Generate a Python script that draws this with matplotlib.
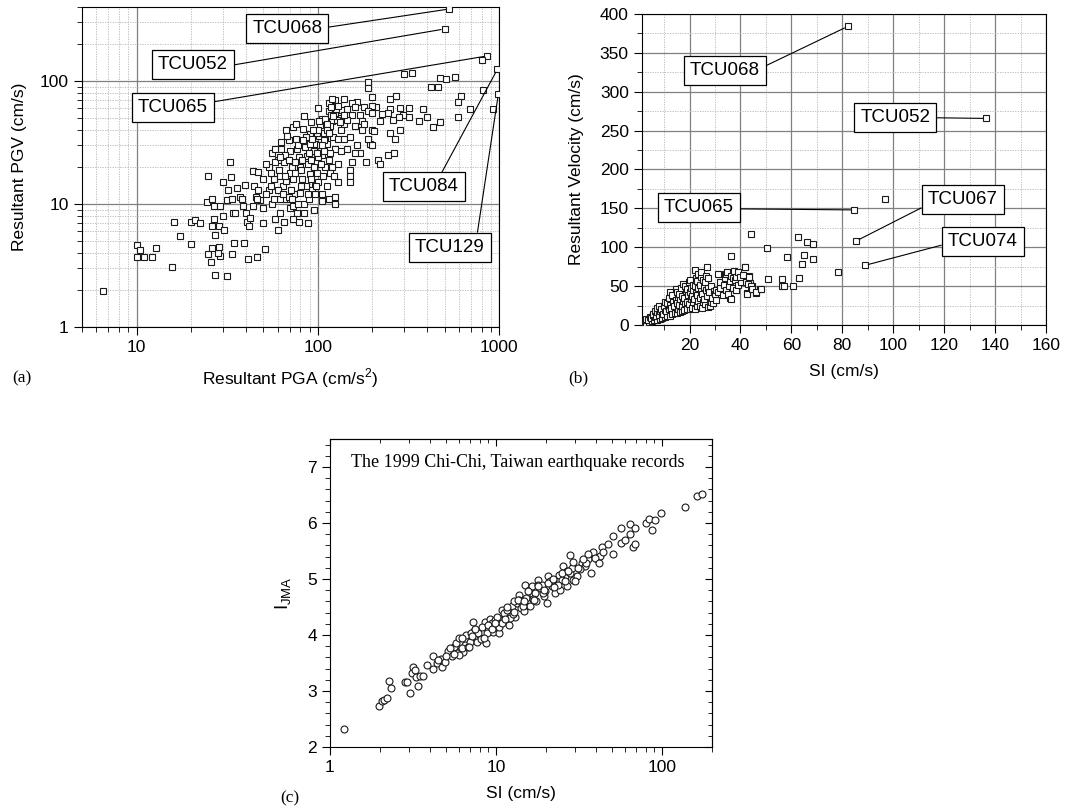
import matplotlib
matplotlib.use('Agg')
import matplotlib.pyplot as plt
from matplotlib.ticker import FuncFormatter, MultipleLocator, NullFormatter

plt.rcParams['font.family'] = ['Liberation Sans', 'DejaVu Sans']
plt.rcParams['mathtext.fontset'] = 'custom'
plt.rcParams['mathtext.rm'] = 'Liberation Sans'

# (a) resultant PGA (cm/s2) vs resultant PGV (cm/s)
pga_a = [
    530, 500, 860, 800, 980, 990, 930, 810, 690, 620,
    590, 590, 570, 510, 470, 420, 460, 430, 470, 360,
    380, 400, 300, 330, 285, 320, 320, 295, 280, 285,
    270, 250, 250, 245, 260, 250, 265, 245, 262, 210,
    220, 225, 200, 205, 215, 195, 200, 220, 190, 190,
    200, 200, 180, 165, 190, 190, 185, 170, 165, 160,
    155, 145, 150, 150, 150, 130, 130, 125, 140, 155,
    155, 145, 140, 130, 135, 100, 105, 115, 120, 115,
    110, 102, 125, 120, 115, 117, 123, 105, 115, 125,
    125, 105, 97, 100,
    6.5, 10, 10, 10.4, 11, 12.2, 12.8, 15.7, 16, 17.3,
    20, 20, 21, 22.3, 24.5, 24.7, 24.7, 25.9, 27, 27.2,
    31.5, 29, 28, 28.5, 26, 33.5, 34.5, 39, 41, 46, 51,
    32.7, 33, 30, 26, 26.7, 28.8, 26.7, 26, 28.5, 30,
    30.5, 31.5, 32, 33.5, 34, 36, 37, 38.7, 40, 40.6,
    41.5, 42, 39.5, 44, 47, 44.5, 45.5, 48, 50, 50,
    54, 54, 57, 56, 58, 62, 60, 65, 67, 70,
    74, 77, 79, 84, 84, 89, 93, 80,
    56, 60, 61, 63, 65, 67, 69, 70, 72, 73,
    73, 76, 77, 79, 80, 82, 83, 84, 85, 87,
    88, 90, 91, 92, 95, 97, 98, 99, 103, 105,
    110, 112, 117, 117, 122, 125, 130, 135, 140,
    47, 50, 52, 46, 44, 38, 35, 64, 67, 70, 65, 69, 73, 73, 62,
    99, 103, 110, 118, 126, 130, 115, 120, 160, 170, 176, 200,
    86, 92, 95, 100, 108, 112, 95, 88, 78, 60, 55, 58, 62, 66, 75,
    82, 90, 100, 108, 135, 145, 160, 175, 150, 180,
    52, 55, 58, 62, 64, 68, 71, 75, 78, 81,
    86, 89, 94, 96, 101, 104, 108, 113, 118, 128,
    66, 72, 81, 88, 93, 99, 107, 113, 121, 133,
    57, 63, 69, 76, 83, 92, 98, 106, 115, 140,
]
pgv_a = [
    385, 265, 160, 148, 125, 78, 59, 85, 59, 75,
    68, 51, 108, 103, 106, 90, 90, 42, 46, 47,
    59, 51, 113, 117, 60, 60, 51, 53, 51, 40,
    75, 71, 59, 55, 48, 38, 34, 25, 26, 62,
    47, 54, 40, 39, 23, 31, 30, 21, 98, 88,
    74, 63, 62, 68, 57, 34, 22, 26, 30, 26,
    22, 28, 19, 17, 15, 21, 15, 70, 71, 66,
    53, 59, 45, 50, 58, 60, 49, 57, 47, 39,
    33, 36, 28, 20, 23, 18, 17, 12, 11, 11.5,
    10, 10.5, 14, 15,
    1.98, 4.6, 3.7, 4.2, 3.7, 3.7, 4.4, 3.1, 7.1, 5.5,
    4.7, 7.1, 7.4, 7.0, 10.3, 16.8, 3.9, 3.4, 5.6, 2.65,
    2.6, 3.8, 4.0, 4.5, 4.4, 3.9, 4.8, 4.8, 3.6, 3.7, 4.3,
    22, 16.5, 15, 11, 9.6, 9.6, 7.5, 6.6, 6.6, 8,
    6.2, 10.8, 13, 11, 8.5, 13.5, 11.5, 9.6, 8.5, 7.2,
    6.6, 7.7, 14.3, 18.5, 18.2, 14, 11.5, 10.8, 9.3, 7,
    13, 20, 16, 10, 7.5, 8.5, 6.2, 7.2, 11, 9.3,
    12, 8.5, 7.2, 10, 8.5, 11, 13, 12.3,
    26, 23, 19, 28, 22, 40, 33, 27, 20, 42,
    16, 34, 28, 24, 20, 16, 41, 52, 29, 24.5,
    21, 17.5, 37, 46, 27, 31, 22, 18, 30, 25,
    20, 31, 26, 43, 35, 55, 34, 27, 34,
    13, 16, 12, 11, 9.6, 11, 8.5, 14, 15.3, 18, 11, 11.5, 9.6, 7.5, 11,
    38, 44, 49, 53, 59, 63, 66, 71, 61, 53, 47, 55,
    14, 16, 20, 24, 27, 14, 9, 7, 10, 13, 18, 22, 17, 25, 18,
    23, 31, 40, 38, 40, 48, 43, 40, 35, 45,
    21, 14, 28, 24, 12, 36, 13, 22, 30, 14,
    35, 26, 40, 12, 47, 21, 33, 45, 62, 48,
    17, 11, 19, 12, 34, 26, 17, 40, 52, 46,
    11, 32, 23, 45, 33, 23, 14, 30, 38, 53,
]

# (b) SI (cm/s) vs resultant velocity (cm/s)
si_b = [
    82.1, 136.6, 84.7, 96.7, 85.4, 88.9, 78.4, 44, 50.3, 62.4,
    66.3, 68.6, 58.2, 65.1, 64.3, 68.3, 36.1, 63, 56.5, 56.5,
    57.2, 60.8, 50.7, 47.7, 46.1, 42.5, 43.8, 44.4, 41.8, 43.4,
    38.6, 38.2, 36, 34.6, 31.4,
    2.1, 2.4,
    3.0, 3.3, 2.8,
    4.1, 3.8, 4.4,
    5.2, 4.9, 5.5,
    6.0, 6.3, 5.8, 6.6,
    7.1, 6.9, 7.4, 7.2,
    8.2, 7.9, 8.5, 8.1,
    9.0, 9.3, 8.8,
    10.2, 9.6, 10.5, 9.9, 10.3,
    11.1, 10.8, 11.4, 11.0,
    12.2, 11.8, 12.5, 12.0, 12.4,
    13.1, 12.9, 13.4, 13.2,
    14.2, 13.8, 14.5, 14.8,
    15.0, 15.3, 14.9, 15.6, 15.2,
    16.1, 15.8, 16.4, 16.0, 16.6,
    17.2, 16.9, 17.5, 17.1, 17.4,
    18.0, 18.3, 17.8, 18.6, 18.2,
    19.1, 18.9, 19.4, 19.0, 19.7,
    20.2, 19.8, 20.5, 20.1, 20.4, 20.0,
    21.0, 21.3, 20.8, 21.5, 21.2,
    22.1, 21.8, 22.4, 22.0, 22.5, 22.2,
    23.0, 23.3, 22.8, 23.5, 23.1, 23.4,
    24.2, 23.9, 24.5, 24.1, 24.4, 24.6,
    25.0, 25.3, 24.8, 25.5, 25.2,
    26.1, 25.8, 26.4, 26.0, 26.3,
    27.2, 26.9, 27.4, 27.1, 26.8,
    28.0, 28.3, 27.8, 28.5,
    29.1, 28.9, 29.4,
    30.2, 29.8, 30.5,
    31.0, 31.3,
    32.1, 31.8,
    33.0, 33.4,
    34.2, 33.9, 34.5,
    35.0, 35.3, 34.8,
    36.1, 35.9, 36.4,
    37.2, 37.0, 37.5,
    38.1, 37.9, 38.4,
    39.2, 39.0,
    40.1, 39.8,
    41.0,
    42.1, 41.8, 42.4,
    43.2, 43.0,
    44.1, 44.5,
    46.2,
    48.0,
]
vel_b = [
    384, 265.7, 148, 162, 108, 76.7, 67.7, 116.6, 98.6, 112.7,
    106.3, 103.7, 87.9, 90, 78, 84.9, 88.7, 60.9, 58.7, 50.6,
    50.6, 50.1, 58.7, 46.7, 41.6, 40.7, 53.6, 50, 75, 63,
    57.9, 45, 34.3, 68.6, 65.1,
    2, 4,
    3, 6, 8,
    4, 7, 10,
    5, 9, 13,
    6, 10, 14, 18,
    7, 12, 17, 22,
    8, 13, 18, 24,
    9, 15, 20,
    10, 14, 19, 25, 30,
    11, 18, 24, 28,
    12, 20, 26, 35, 43,
    14, 22, 30, 38,
    15, 24, 32, 46,
    16, 21, 28, 36, 42,
    17, 26, 33, 40, 48,
    18, 24, 31, 37, 53,
    19, 28, 35, 44, 50,
    20, 30, 38, 46, 55,
    21, 27, 33, 42, 48, 58,
    22, 30, 37, 45, 52,
    20, 34, 41, 50, 60, 71,
    24, 31, 38, 47, 56, 65,
    25, 35, 44, 52, 62, 68,
    22, 29, 40, 49, 58,
    27, 33, 45, 55, 63,
    23, 37, 47, 60, 75,
    25, 30, 42, 50,
    28, 35, 44,
    32, 40, 45,
    42, 65,
    48, 55,
    38, 52,
    45, 60, 66,
    40, 50, 68,
    34, 56, 63,
    48, 60, 70,
    45, 58, 62,
    52, 68,
    55, 62,
    64,
    55, 74, 40,
    62, 53,
    50, 46,
    42,
    46,
]

# (c) SI (cm/s) vs JMA intensity
si_c = [
    1.21, 1.97, 2.05, 2.12, 2.2, 2.27, 2.32, 2.83, 2.93, 3.04,
    3.1, 3.18, 3.25, 3.3, 3.38, 3.49, 3.62, 3.83, 4.16, 4.2,
    4.4, 4.65, 4.7, 4.93, 5.17, 5.42, 5.55, 5.75, 5.95, 6.08,
    6.37, 6.5, 6.6, 7.0, 7.25, 7.37, 7.67, 8.0, 8.4, 8.6,
    8.7, 9.0, 9.2, 9.6, 10.0, 10.4, 10.6, 10.8, 11.4, 11.9,
    12.0, 12.5, 13.1, 13.4, 13.8, 14.1, 14.7, 15.0, 15.5, 16.1,
    16.8, 17.5, 18.0, 18.5, 19.4, 20.3, 20.7, 21.7, 22.7, 23.3,
    24.4, 25.5, 26.0, 26.8, 27.8, 28.0, 29.0, 30.6, 32.8, 34.3,
    35.9, 37.6, 38.2, 40.5, 42.4, 43.4, 44.4, 47.0, 50.5, 51.0,
    56.4, 56.4, 59.9, 64.5, 64.5, 67, 69, 69, 80, 84,
    87, 91, 98, 138, 162, 175,
    5.3, 5.8, 6.2, 6.8, 7.1, 7.8, 8.2, 8.8, 9.4, 9.8,
    10.4, 11.1, 11.6, 12.2, 12.8, 13.7, 14.3, 15.2, 15.8, 16.4,
    17.2, 17.8, 19.0, 19.8, 21.2, 22.2, 23.8, 24.9, 26.8, 28.6,
    30, 32, 35, 39.6, 41.5,
    6.2, 6.9, 7.5, 8.1, 8.9, 9.5, 10.2, 10.9, 11.7, 12.6,
    13.5, 14.5, 15.6, 16.6, 17.9, 19.2, 20.5, 22, 23.5, 25,
    27, 29, 31, 33.5, 36, 6.0, 7.2, 8.5, 9.9, 11.3,
    12.9, 14.8, 17, 19.5, 22.5, 26, 4.5, 5.0, 5.6,
]
ijma_c = [
    2.32, 2.73, 2.82, 2.84, 2.87, 3.18, 3.05, 3.16, 3.16, 2.97,
    3.33, 3.42, 3.37, 3.25, 3.09, 3.27, 3.27, 3.46, 3.62, 3.39,
    3.5, 3.58, 3.43, 3.51, 3.72, 3.62, 3.78, 3.85, 3.94, 3.72,
    3.7, 3.82, 4.0, 3.88, 4.24, 4.08, 3.88, 4.0, 4.06, 4.24,
    3.85, 4.12, 4.28, 4.06, 4.15, 4.03, 4.27, 4.45, 4.33, 4.39,
    4.18, 4.51, 4.33, 4.57, 4.72, 4.48, 4.42, 4.9, 4.63, 4.51,
    4.72, 4.6, 4.99, 4.84, 4.69, 4.57, 5.05, 4.87, 4.75, 4.96,
    4.81, 5.23, 5.05, 4.87, 5.43, 5.11, 4.99, 5.06, 5.29, 5.23,
    5.35, 5.11, 5.49, 5.35, 5.41, 5.58, 5.49, 5.63, 5.45, 5.76,
    5.91, 5.64, 5.70, 5.99, 5.81, 5.58, 5.63, 5.91, 6.0, 6.07,
    5.88, 6.05, 6.18, 6.29, 6.48, 6.52,
    3.76, 3.67, 3.76, 3.79, 4.03, 4.03, 4.15, 4.03, 4.21, 4.27,
    4.15, 4.39, 4.45, 4.30, 4.60, 4.63, 4.57, 4.66, 4.81, 4.87,
    4.75, 4.9, 4.9, 4.78, 4.96, 4.99, 5.08, 4.99, 5.14, 5.2,
    4.96, 5.17, 5.29, 5.38, 5.29,
    3.95, 3.78, 4.1, 3.92, 4.18, 4.1, 4.32, 4.22, 4.5, 4.38,
    4.62, 4.52, 4.78, 4.65, 4.88, 4.75, 4.92, 5.0, 4.9, 5.1,
    5.15, 5.3, 5.2, 5.35, 5.45, 3.65, 3.98, 3.95, 4.22, 4.28,
    4.41, 4.6, 4.62, 4.8, 4.85, 4.96, 3.55, 3.62, 3.66,
]

# station labels: name, point, label centre, where the leader leaves the box
labels_a = [
    ('TCU068', (530, 385), (68, 268), (1, 0.52)),
    ('TCU052', (500, 265), (20.4, 136), (1, 0.42)),
    ('TCU065', (860, 160), (15.8, 60.8), (1, 0.78)),
    ('TCU084', (980, 125), (385, 13.8), (0.71, 1)),
    ('TCU129', (990, 78), (536, 4.46), (0.88, 1)),
]
labels_b = [
    ('TCU068', (82.1, 384), (33.9, 327), (1, 0.63)),
    ('TCU052', (136.6, 265.7), (100.8, 267.5), (1, 0.46)),
    ('TCU065', (84.7, 148), (23.7, 150.5), (1, 0.45)),
    ('TCU067', (85.4, 108), (127.3, 161.4), (0, 0.2)),
    ('TCU074', (88.9, 76.7), (135.1, 107.4), (0, 0.38)),
]

assert len(pga_a) == len(pgv_a)
assert len(si_b) == len(vel_b)
assert len(si_c) == len(ijma_c)

TICK = 12.5
LABEL = 12.5
SERIF = ['Liberation Serif', 'DejaVu Serif']


def plain(v, pos):
    return f'{v:g}'


def add_labels(ax, labels):
    for name, pt, txt, rel in labels:
        ax.annotate(name, xy=pt, xytext=txt, ha='center', va='center',
                    fontsize=13.5, zorder=6,
                    bbox=dict(boxstyle='square,pad=0.32', fc='white',
                              ec='black', lw=0.9),
                    arrowprops=dict(arrowstyle='-', color='black', lw=0.8,
                                    relpos=rel, shrinkA=0, shrinkB=2.5))


def squares(ax, x, y, size):
    ax.plot(x, y, 's', ms=size, mfc='white', mec='#1a1a1a', mew=0.8,
            ls='none', zorder=3)


def ticks(ax):
    ax.tick_params(which='both', direction='out', labelsize=TICK)
    ax.tick_params(which='major', length=6)
    ax.tick_params(which='minor', length=3.5)


def grids(ax):
    ax.grid(which='major', color='#808080', lw=0.9, ls='-')
    ax.grid(which='minor', color='#b5b5b5', lw=0.6, ls=(0, (1.5, 1.5)))
    ax.set_axisbelow(True)


fig = plt.figure(figsize=(10.89, 8.11), dpi=100)

# ---- (a)
ax = fig.add_axes([0.0753, 0.5968, 0.383, 0.3946])
squares(ax, pga_a, pgv_a, 4.4)
ax.set_xscale('log')
ax.set_yscale('log')
ax.set_xlim(5, 1000)
ax.set_ylim(1, 400)
for axis in (ax.xaxis, ax.yaxis):
    axis.set_major_formatter(FuncFormatter(plain))
    axis.set_minor_formatter(NullFormatter())
grids(ax)
ticks(ax)
ax.set_xlabel('Resultant PGA (cm/s$^2$)', fontsize=LABEL, labelpad=8)
ax.set_ylabel('Resultant PGV (cm/s)', fontsize=LABEL, labelpad=9)
add_labels(ax, labels_a)

# ---- (b)
ax = fig.add_axes([0.5895, 0.5993, 0.371, 0.3834])
squares(ax, si_b, vel_b, 3.9)
ax.set_xlim(1.3, 160)
ax.set_ylim(0, 400)
ax.xaxis.set_major_locator(MultipleLocator(20))
ax.xaxis.set_minor_locator(MultipleLocator(10))
ax.yaxis.set_major_locator(MultipleLocator(50))
ax.yaxis.set_minor_locator(MultipleLocator(25))
grids(ax)
ticks(ax)
ax.set_xlabel('SI (cm/s)', fontsize=LABEL, labelpad=8)
ax.set_ylabel('Resultant Velocity (cm/s)', fontsize=LABEL, labelpad=11)
add_labels(ax, labels_b)

# ---- (c)
ax = fig.add_axes([0.303, 0.0789, 0.3508, 0.3798])
ax.plot(si_c, ijma_c, 'o', ms=5.0, mfc='white', mec='#1a1a1a', mew=0.8,
        ls='none', zorder=3)
ax.set_xscale('log')
ax.set_xlim(1, 200)
ax.set_ylim(2, 7.5)
ax.xaxis.set_major_formatter(FuncFormatter(plain))
ax.xaxis.set_minor_formatter(NullFormatter())
ax.yaxis.set_major_locator(MultipleLocator(1))
ax.yaxis.set_minor_locator(MultipleLocator(0.2))
ticks(ax)
top = ax.secondary_xaxis('top')
top.xaxis.set_minor_formatter(NullFormatter())
top.tick_params(which='both', direction='in', labeltop=False)
top.tick_params(which='major', length=5)
top.tick_params(which='minor', length=3)
right = ax.secondary_yaxis('right')
right.yaxis.set_major_locator(MultipleLocator(1))
right.yaxis.set_minor_locator(MultipleLocator(0.2))
right.tick_params(which='both', direction='in', labelright=False)
right.tick_params(which='major', length=5)
right.tick_params(which='minor', length=3)
ax.text(0.492, 0.925, 'The 1999 Chi-Chi, Taiwan earthquake records',
        transform=ax.transAxes, ha='center', va='center', fontsize=13,
        family=SERIF)
ax.set_xlabel('SI (cm/s)', fontsize=LABEL, labelpad=8)
ax.set_ylabel(r'$\mathregular{I_{JMA}}$', fontsize=LABEL + 1, labelpad=10)

# panel letters
fig.text(22 / 1089, 1 - 378 / 811, '(a)', ha='center', va='center',
         fontsize=12.5, family=SERIF)
fig.text(578 / 1089, 1 - 378 / 811, '(b)', ha='center', va='center',
         fontsize=12.5, family=SERIF)
fig.text(290 / 1089, 1 - 798 / 811, '(c)', ha='center', va='center',
         fontsize=12.5, family=SERIF)

fig.savefig('out.png', dpi=100)
